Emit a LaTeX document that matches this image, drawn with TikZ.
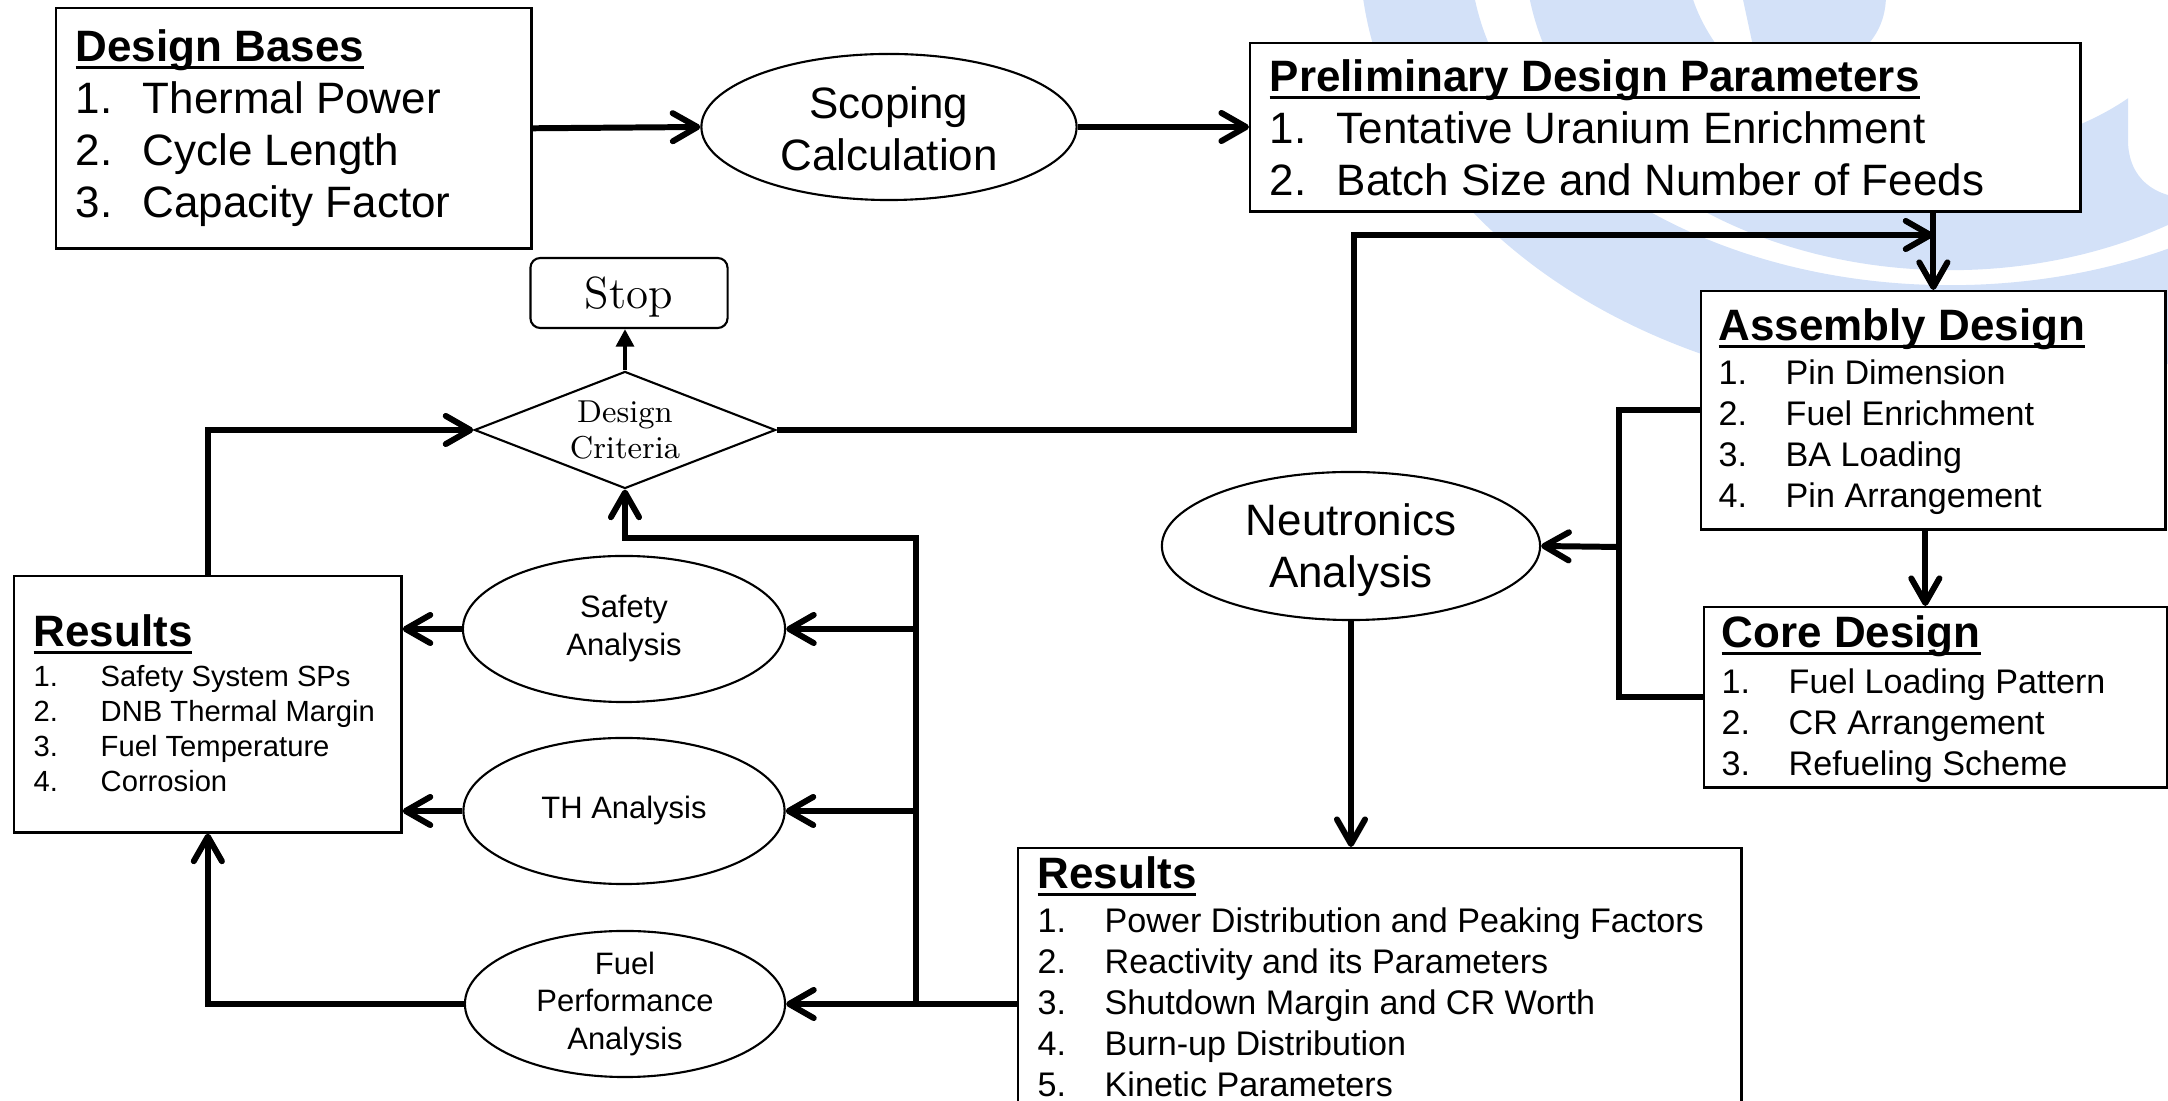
\documentclass[tikz,border=0pt]{standalone}
\usepackage{fontspec}
\newfontfamily\arial{Liberation Sans}
\usetikzlibrary{shapes.geometric,arrows.meta}
\definecolor{wmblue}{RGB}{211,225,248}

\newcommand{\fbig}{\arial\fontsize{12.5}{14.8}\selectfont}
\newcommand{\fmid}{\arial\fontsize{9.7}{11.7}\selectfont}
\newcommand{\fsml}{\arial\fontsize{8.3}{9.96}\selectfont}
\newcommand{\fell}{\arial\fontsize{8.8}{10.8}\selectfont}
\newcommand{\ttl}[1]{\setbox0\hbox{\fbig\bfseries #1}\rlap{\rule[-2.1pt]{\wd0}{0.85pt}}\box0}
\newcommand{\itm}[2]{\makebox[0.67cm][l]{#1}#2}

\tikzset{list box/.style={draw,line width=0.7pt,fill=white,anchor=north west,inner sep=0pt},
         list text/.style={anchor=base west,inner sep=0pt,align=left},
         proc node/.style={ellipse,draw,line width=0.6pt,fill=white,inner sep=0pt},
         flow/.style={line width=1.7pt},
         flow arrow/.style={flow,-{Straight Barb[length=7pt,width=8pt,round]}},
            }

\begin{document}
\begin{tikzpicture}[x=0.01cm,y=-0.01cm]
				\useasboundingbox (0,0) rectangle (2168,1101);
				% watermark
				\begin{scope}
				\clip (0,0) rectangle (2168,1101);
				\fill[wmblue,even odd rule] (1950,-50) ellipse [x radius=5.9cm,y radius=4.45cm]
				                            (1950,-50) ellipse [x radius=4.8cm,y radius=3.35cm];
				\begin{scope}
				\clip (0,0) -- (2128,0) -- (2128,140) .. controls (2128,175) and (2150,190) .. (2168,195)
				      -- (2168,1101) -- (0,1101) -- cycle;
				\fill[wmblue,even odd rule] (1950,-50) ellipse [x radius=4.25cm,y radius=3.2cm]
				                            (1950,-50) ellipse [x radius=2.65cm,y radius=2cm];
				\end{scope}
				\fill[wmblue] (1742,-5) -- (1886,-5) .. controls (1886,25) and (1872,45) .. (1850,60) -- (1756,60) -- cycle;
				\end{scope}

				% boxes
				\node[list box,minimum width=4.75cm,minimum height=2.4cm] (db) at (55,7) {};
				\node[list text,font=\fbig] (db-l) at (75,218) {\ttl{Design Bases}\\
				  \itm{1.}{Thermal Power}\\ \itm{2.}{Cycle Length}\\ \itm{3.}{Capacity Factor}};
				\node[list box,minimum width=8.3cm,minimum height=1.68cm] (pdp) at (1249,42) {};
				\node[list text,font=\fbig] (pdp-l) at (1269,196) {\ttl{Preliminary Design Parameters}\\
				  \itm{1.}{Tentative Uranium Enrichment}\\ \itm{2.}{Batch Size and Number of Feeds}};
				\node[list box,minimum width=4.64cm,minimum height=2.38cm] (asm) at (1700,290) {};
				\node[list text,font=\fmid] (asm-l) at (1718,508) {\ttl{Assembly Design}\\[0.85pt]
				  \itm{1.}{Pin Dimension}\\ \itm{2.}{Fuel Enrichment}\\ \itm{3.}{BA Loading}\\ \itm{4.}{Pin Arrangement}};
				\node[list box,minimum width=4.63cm,minimum height=1.8cm] (core) at (1703,606) {};
				\node[list text,font=\fmid] (core-l) at (1721,776) {\ttl{Core Design}\\[1.3pt]
				  \itm{1.}{Fuel Loading Pattern}\\ \itm{2.}{CR Arrangement}\\ \itm{3.}{Refueling Scheme}};
				\node[list box,minimum width=7.23cm,minimum height=2.8cm] (nres) at (1017,847) {};
				\node[list text,font=\fmid] (nres-l) at (1037,1097) {\ttl{Results}\\[0.85pt]
				  \itm{1.}{Power Distribution and Peaking Factors}\\ \itm{2.}{Reactivity and its Parameters}\\
				  \itm{3.}{Shutdown Margin and CR Worth}\\ \itm{4.}{Burn-up Distribution}\\ \itm{5.}{Kinetic Parameters}};
				\node[list box,minimum width=3.87cm,minimum height=2.56cm] (lres) at (13,575) {};
				\node[list text,font=\fsml] (lres-l) at (33,792) {\ttl{Results}\\[1.4pt]
				  \itm{1.}{Safety System SPs}\\ \itm{2.}{DNB Thermal Margin}\\ \itm{3.}{Fuel Temperature}\\ \itm{4.}{Corrosion}};

				% processes
				\node[proc node,minimum width=3.75cm,minimum height=1.46cm,
				      label={[font=\fbig,align=center,yshift=-0.02cm]center:Scoping\\Calculation}] (scp) at (889,127) {};
				\node[proc node,minimum width=3.78cm,minimum height=1.48cm,
				      label={[font=\fbig,align=center,yshift=-0.04cm]center:Neutronics\\Analysis}] (neu) at (1351,546) {};
				\node[proc node,minimum width=3.22cm,minimum height=1.46cm,
				      label={[font=\fell,align=center]center:Safety\\Analysis}] (saf) at (624,629) {};
				\node[proc node,minimum width=3.21cm,minimum height=1.46cm,
				      label={[font=\fell]center:TH Analysis}] (th) at (624,811) {};
				\node[proc node,minimum width=3.2cm,minimum height=1.46cm,
				      label={[font=\fell,align=center]center:Fuel\\Performance\\Analysis}] (fp) at (625,1004) {};
				\node[diamond,draw,line width=0.6pt,fill=white,inner sep=0pt,minimum width=3.01cm,minimum height=1.17cm,
				      label={[font=\fontsize{9}{10}\selectfont,align=center]center:Design\\Criteria}] (dc) at (625,430) {};
				\node[draw,rounded corners=2.8pt,line width=0.6pt,inner sep=0pt,minimum width=1.97cm,minimum height=0.7cm,
				      font=\fontsize{12.8}{14}\selectfont,text depth=0pt] (stop) at (629,293) {Stop};

				\coordinate (fb) at (1354,235);
				\coordinate (nbus) at (1619,547);
				\coordinate (rbus) at (916,538);

				% connectors
				\draw[flow arrow] (db.east) -- (scp.west);
				\draw[flow arrow] (scp.east) -- (scp.east -| pdp.west);
				\draw[flow arrow] (asm.north |- pdp.south) -- (asm.north);
				\draw[flow arrow] (dc.east) -| (fb) -- (fb -| asm.north);
				\draw[flow arrow] ([xshift=-0.08cm]asm.south) -- ([xshift=-0.08cm]asm.south |- core.north);
				\draw[flow] (asm.west) -| (nbus) |- (core.west);
				\draw[flow arrow] (nbus) -- (neu.east);
				\draw[flow arrow] (neu.south) -- (neu.south |- nres.north);
				\draw[flow arrow] (nres.west |- fp) -- (fp.east);
				\draw[flow arrow] (rbus |- fp) -- (rbus) -| (dc.south);
				\draw[flow arrow] (rbus |- saf) -- (saf.east);
				\draw[flow arrow] (rbus |- th) -- (th.east);
				\draw[flow arrow] (saf.west) -- (saf.west -| lres.east);
				\draw[flow arrow] (th.west) -- (th.west -| lres.east);
				\draw[flow arrow] (fp.west) -| (lres.south);
				\draw[flow arrow] (lres.north) |- (dc.west);
				\draw[line width=1.4pt,-{Triangle[length=5pt,width=5pt]}] (dc.north) -- (dc.north |- stop.south);
			\end{tikzpicture}
\end{document}
